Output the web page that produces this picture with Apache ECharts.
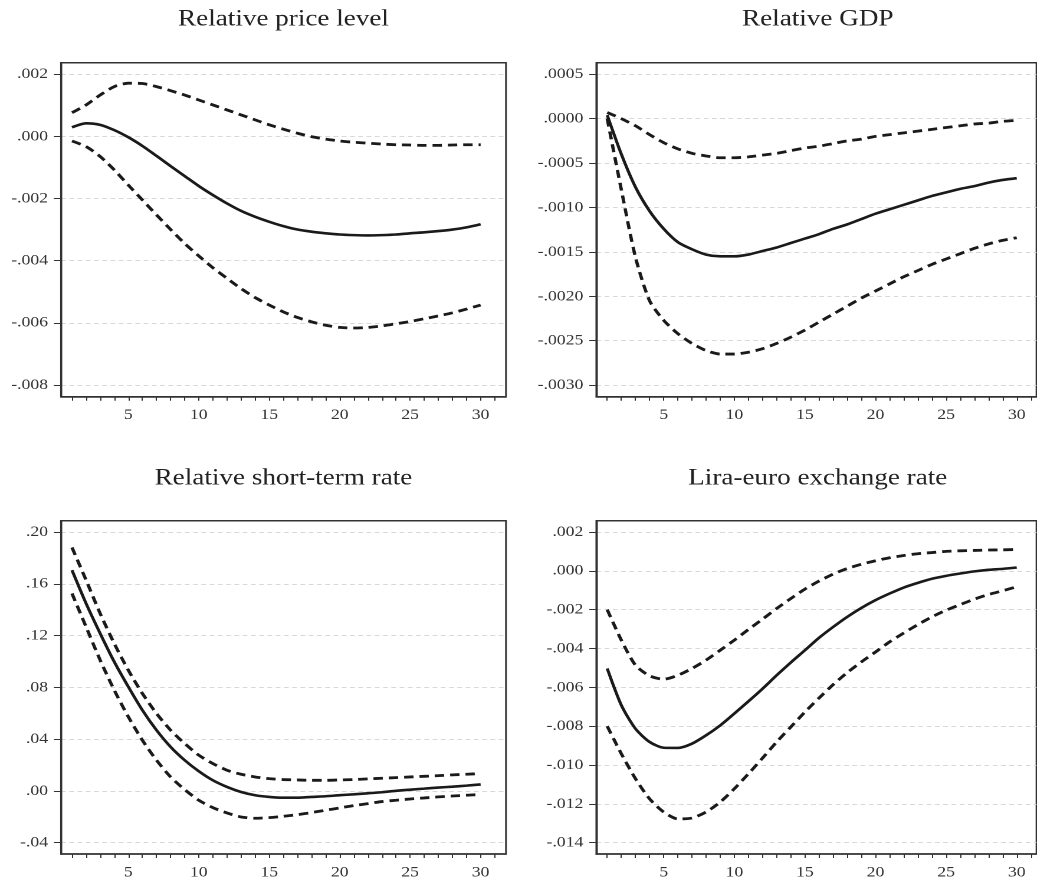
<!DOCTYPE html>
<html>
<head>
<meta charset="utf-8">
<script src="https://cdn.jsdelivr.net/npm/echarts@6/dist/echarts.min.js"></script>
<style>
html,body{margin:0;padding:0;background:#fff;overflow:hidden;}
#wrap{width:1037px;height:885px;overflow:hidden;}
#chart{width:879px;height:885px;transform:scaleX(1.1797);transform-origin:0 0;}
</style>
</head>
<body>
<div id="wrap"><div id="chart"></div></div>
<script>
// ---- data ----
const periods = [1,2,3,4,5,6,7,8,9,10,11,12,13,14,15,16,17,18,19,20,21,22,23,24,25,26,27,28,29,30];
const xTickMarks = [1,2,3,4,5,6,7,8,9,10,11,12,13,14,15,16,17,18,19,20,21,22,23,24,25,26,27,28,29,30,31];
const xTickLabels = [5,10,15,20,25,30];

const titles = ["Relative price level","Relative GDP","Relative short-term rate","Lira-euro exchange rate"];

const priceMid = [0.00029,0.00042,0.00037,0.00020,-0.00003,-0.00031,-0.00063,-0.00096,-0.00128,-0.00160,-0.00189,-0.00216,-0.00240,-0.00259,-0.00275,-0.00289,-0.00300,-0.00307,-0.00312,-0.00316,-0.00318,-0.00319,-0.00318,-0.00316,-0.00312,-0.00309,-0.00305,-0.00300,-0.00293,-0.00283];
const priceUp = [0.00076,0.00101,0.00133,0.00160,0.00171,0.00170,0.00160,0.00147,0.00133,0.00117,0.00101,0.00085,0.00069,0.00053,0.00037,0.00023,0.00010,-0.00001,-0.00009,-0.00015,-0.00019,-0.00022,-0.00025,-0.00027,-0.00028,-0.00029,-0.00029,-0.00028,-0.00027,-0.00027];
const priceLo = [-0.00015,-0.00033,-0.00065,-0.00108,-0.00157,-0.00205,-0.00253,-0.00300,-0.00345,-0.00385,-0.00423,-0.00457,-0.00490,-0.00519,-0.00543,-0.00565,-0.00583,-0.00597,-0.00608,-0.00615,-0.00617,-0.00615,-0.00610,-0.00603,-0.00596,-0.00587,-0.00578,-0.00568,-0.00556,-0.00543];
const priceTicks = [-0.008,-0.006,-0.004,-0.002,0,0.002];

const gdpMid = [0.00004,-0.00040,-0.00077,-0.00104,-0.00124,-0.00139,-0.00147,-0.00153,-0.00155,-0.00155,-0.00153,-0.00149,-0.00145,-0.00140,-0.00135,-0.00130,-0.00124,-0.00119,-0.00113,-0.00107,-0.00102,-0.00097,-0.00092,-0.00087,-0.00083,-0.00079,-0.00076,-0.00072,-0.00069,-0.00067];
const gdpUp = [0.00007,0.00000,-0.00008,-0.00018,-0.00027,-0.00034,-0.00039,-0.00042,-0.00044,-0.00044,-0.00043,-0.00041,-0.00039,-0.00036,-0.00033,-0.00031,-0.00028,-0.00025,-0.00023,-0.00020,-0.00018,-0.00016,-0.00014,-0.00012,-0.00010,-0.00008,-0.00006,-0.00005,-0.00003,-0.00002];
const gdpLo = [0.00000,-0.00080,-0.00156,-0.00205,-0.00227,-0.00242,-0.00253,-0.00261,-0.00265,-0.00265,-0.00263,-0.00259,-0.00253,-0.00246,-0.00238,-0.00229,-0.00220,-0.00211,-0.00202,-0.00194,-0.00186,-0.00178,-0.00171,-0.00164,-0.00158,-0.00152,-0.00146,-0.00141,-0.00137,-0.00134];
const gdpTicks = [-0.003,-0.0025,-0.002,-0.0015,-0.001,-0.0005,0,0.0005];

const rateMid = [0.1705,0.1448,0.1216,0.0997,0.0804,0.0623,0.0469,0.0340,0.0237,0.0152,0.0082,0.0031,-0.0008,-0.0033,-0.0046,-0.0052,-0.0052,-0.0046,-0.0041,-0.0033,-0.0026,-0.0018,-0.0010,0.0001,0.0010,0.0018,0.0026,0.0033,0.0041,0.0050];
const rateUp = [0.1880,0.1628,0.1370,0.1138,0.0932,0.0752,0.0598,0.0469,0.0366,0.0276,0.0211,0.0160,0.0129,0.0108,0.0095,0.0088,0.0085,0.0082,0.0082,0.0085,0.0088,0.0093,0.0098,0.0103,0.0108,0.0113,0.0118,0.0124,0.0129,0.0134];
const rateLo = [0.1525,0.1267,0.1010,0.0778,0.0572,0.0391,0.0237,0.0108,0.0010,-0.0072,-0.0129,-0.0170,-0.0201,-0.0211,-0.0206,-0.0196,-0.0183,-0.0167,-0.0149,-0.0131,-0.0113,-0.0098,-0.0082,-0.0072,-0.0062,-0.0054,-0.0046,-0.0039,-0.0033,-0.0028];
const rateTicks = [-0.04,0,0.04,0.08,0.12,0.16,0.20];

const fxMid = [-0.00503,-0.00692,-0.00813,-0.00881,-0.00911,-0.00912,-0.00890,-0.00847,-0.00796,-0.00735,-0.00672,-0.00607,-0.00538,-0.00472,-0.00409,-0.00345,-0.00289,-0.00237,-0.00191,-0.00151,-0.00117,-0.00086,-0.00062,-0.00041,-0.00026,-0.00014,-0.00003,0.00005,0.00010,0.00017];
const fxUp = [-0.00200,-0.00357,-0.00486,-0.00541,-0.00558,-0.00538,-0.00503,-0.00460,-0.00409,-0.00357,-0.00302,-0.00249,-0.00194,-0.00143,-0.00094,-0.00053,-0.00017,0.00012,0.00034,0.00052,0.00067,0.00079,0.00088,0.00094,0.00100,0.00103,0.00105,0.00107,0.00108,0.00110];
const fxLo = [-0.00800,-0.00942,-0.01070,-0.01174,-0.01242,-0.01277,-0.01273,-0.01242,-0.01191,-0.01122,-0.01045,-0.00964,-0.00881,-0.00804,-0.00727,-0.00655,-0.00586,-0.00524,-0.00469,-0.00418,-0.00366,-0.00320,-0.00277,-0.00237,-0.00203,-0.00174,-0.00146,-0.00122,-0.00103,-0.00082];
const fxTicks = [-0.014,-0.012,-0.010,-0.008,-0.006,-0.004,-0.002,0,0.002];

// ---- layout ----
const FONT = 'Liberation Serif';
const panels = [
  {title: titles[0], mid: priceMid, up: priceUp, lo: priceLo, ticks: priceTicks, dec: 3, ymin: -0.00838, ymax: 0.00237,
   grid: {left: 51.7, top: 62.7, width: 377.2, height: 334}, xmin: 0.22, xmax: 31.8, titleX: 240.3, titleY: 8},
  {title: titles[1], mid: gdpMid, up: gdpUp, lo: gdpLo, ticks: gdpTicks, dec: 4, ymin: -0.00313, ymax: 0.00063,
   grid: {left: 505.5, top: 62.7, width: 373.1, height: 334}, xmin: 0.23, xmax: 31.4, titleX: 693.2, titleY: 8},
  {title: titles[2], mid: rateMid, up: rateUp, lo: rateLo, ticks: rateTicks, dec: 2, ymin: -0.0487, ymax: 0.2087,
   grid: {left: 51.7, top: 520.7, width: 377.2, height: 333.3}, xmin: 0.22, xmax: 31.8, titleX: 240.3, titleY: 467},
  {title: titles[3], mid: fxMid, up: fxUp, lo: fxLo, ticks: fxTicks, dec: 3, ymin: -0.01458, ymax: 0.00258,
   grid: {left: 505.5, top: 520.7, width: 373.1, height: 333.3}, xmin: 0.23, xmax: 31.4, titleX: 693.2, titleY: 467}
];

function fmt(v, dec) {
  let s = Math.abs(v).toFixed(dec).replace(/^0/, '');
  return (v < -1e-12 ? '-' : '') + s;
}

const option = {
  animation: false,
  backgroundColor: '#fff',
  title: [], grid: [], xAxis: [], yAxis: [], series: []
};

panels.forEach((p, i) => {
  option.title.push({
    text: p.title, left: p.titleX, top: p.titleY, textAlign: 'center', padding: 0,
    textStyle: {fontFamily: FONT, fontSize: 23, fontWeight: 'normal', color: '#222'}
  });
  option.grid.push(Object.assign({show: true, borderColor: '#333', borderWidth: 1.5, backgroundColor: 'transparent'}, p.grid));
  option.xAxis.push({
    type: 'value', gridIndex: i, min: p.xmin, max: p.xmax,
    axisLine: {show: true, onZero: false, lineStyle: {color: '#333', width: 1.5}},
    axisTick: {show: true, inside: false, length: 4, customValues: xTickMarks, lineStyle: {color: '#333', width: 1}},
    axisLabel: {show: true, margin: 11, customValues: xTickLabels, fontFamily: FONT, fontSize: 15, color: '#333'},
    splitLine: {show: false}
  });
  option.yAxis.push({
    type: 'value', gridIndex: i, min: p.ymin, max: p.ymax,
    axisLine: {show: true, onZero: false, lineStyle: {color: '#333', width: 1.5}},
    axisTick: {show: true, inside: false, length: 6, customValues: p.ticks, lineStyle: {color: '#333', width: 1}},
    axisLabel: {show: true, margin: 11, customValues: p.ticks, fontFamily: FONT, fontSize: 15, color: '#333',
      formatter: (v) => fmt(v, p.dec)},
    splitLine: {show: true, lineStyle: {color: '#d8d8d8', width: 1, type: [4, 3]}}
  });
  const mk = (arr, dashed) => ({
    type: 'line', xAxisIndex: i, yAxisIndex: i, showSymbol: false, smooth: 0.25,
    data: periods.map((x, k) => [x, arr[k]]),
    lineStyle: {color: '#1a1a1a', width: dashed ? 2.8 : 2.6, type: dashed ? [8, 5] : 'solid'},
    silent: true
  });
  option.series.push(mk(p.up, true), mk(p.mid, false), mk(p.lo, true));
});

const chart = echarts.init(document.getElementById('chart'), null, {renderer: 'canvas', devicePixelRatio: 2});
chart.setOption(option);
</script>
</body>
</html>
